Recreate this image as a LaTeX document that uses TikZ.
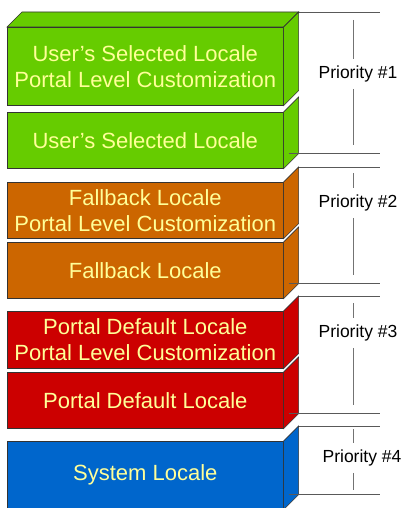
\documentclass[tikz,border=0pt]{standalone}
\usepackage{fontspec}
\setmainfont{Liberation Sans}
\usetikzlibrary{calc}

\begin{document}
\begin{tikzpicture}[
    x=1pt, y=-1pt,
    layer/.style={
        draw=black!80,
        line width=0.6pt,
        anchor=north west,
        minimum width=276pt,
        inner sep=0pt,
        align=center,
        text=txtcol,
        font=\fontsize{22}{26}\selectfont
    },
    face/.style={
        draw=black!80,
        line width=0.6pt
    },
    bracket/.style={
        black!65,
        line width=0.8pt
    },
    tick/.style={
        black!55,
        line width=0.8pt
    },
    prio/.style={
        font=\fontsize{17.5}{20}\selectfont,
        inner xsep=0pt,
        inner ysep=6.5pt
    }
]

\definecolor{grncol}{HTML}{66CC00}
\definecolor{orgcol}{HTML}{CC6600}
\definecolor{redcol}{HTML}{CC0000}
\definecolor{blucol}{HTML}{0066CC}
\definecolor{txtcol}{HTML}{FFFF99}

\useasboundingbox (0,0) rectangle (406,508);

% locale layers, front faces
\node[layer, fill=grncol, minimum height=78pt] (usrcust) at (7,27)
    {User’s Selected Locale\\Portal Level Customization};
\node[layer, fill=grncol, minimum height=56pt] (usr) at (7,112)
    {User’s Selected Locale};
\node[layer, fill=orgcol, minimum height=56pt] (fbcust) at (7,182)
    {Fallback Locale\\Portal Level Customization};
\node[layer, fill=orgcol, minimum height=56pt] (fb) at (7,242)
    {Fallback Locale};
\node[layer, fill=redcol, minimum height=57pt] (defcust) at (7,311)
    {Portal Default Locale\\Portal Level Customization};
\node[layer, fill=redcol, minimum height=56pt] (def) at (7,372)
    {Portal Default Locale};
\node[layer, fill=blucol, minimum height=68pt] (sys) at (7,441)
    {System Locale};

% top face and side faces
\draw[face, fill=grncol] (usrcust.north west) -- ++(15,-15)
    -- ([shift={(15,-15)}]usrcust.north east) -- (usrcust.north east) -- cycle;

\foreach \n/\c in {usrcust/grncol, usr/grncol, fbcust/orgcol, fb/orgcol,
                   defcust/redcol, def/redcol, sys/blucol} {
    \draw[face, fill=\c] (\n.north east) -- ++(15,-15)
        -- ([shift={(15,-15)}]\n.south east) -- (\n.south east) -- cycle;
}

% priority brackets
\coordinate (rx) at (380,0);

\coordinate (g1t) at ([shift={(15,-15)}]usrcust.north east);
\coordinate (g1b) at ([shift={(5,-15)}]usr.south east);
\coordinate (g2t) at ([shift={(15,-15)}]fbcust.north east);
\coordinate (g2b) at ([shift={(5,-15)}]fb.south east);
\coordinate (g3t) at ([shift={(15,-15)}]defcust.north east);
\coordinate (g3b) at ([shift={(5,-15)}]def.south east);
\coordinate (g4t) at ([shift={(15,-15)}]sys.north east);
\coordinate (g4b) at ([shift={(5,-15)}]sys.south east);

\foreach \g in {g1t, g1b, g2t, g2b, g3t, g3b, g4t, g4b}
    \draw[bracket] (\g) -- (\g -| rx);

\node[prio] (p1) at (358,74) {Priority \#1};
\node[prio] (p2) at (358,203) {Priority \#2};
\node[prio] (p3) at (358,333) {Priority \#3};
\node[prio] (p4) at (362,458) {Priority \#4};

\foreach \i/\ya/\yb in {1/20/145, 2/173/275, 3/303/405, 4/429/490} {
    \coordinate (v\i a) at (353,\ya);
    \coordinate (v\i b) at (353,\yb);
    \draw[tick] (v\i a) -- (v\i a |- p\i.north);
    \draw[tick] (p\i.south -| v\i b) -- (v\i b);
}

\end{tikzpicture}
\end{document}
